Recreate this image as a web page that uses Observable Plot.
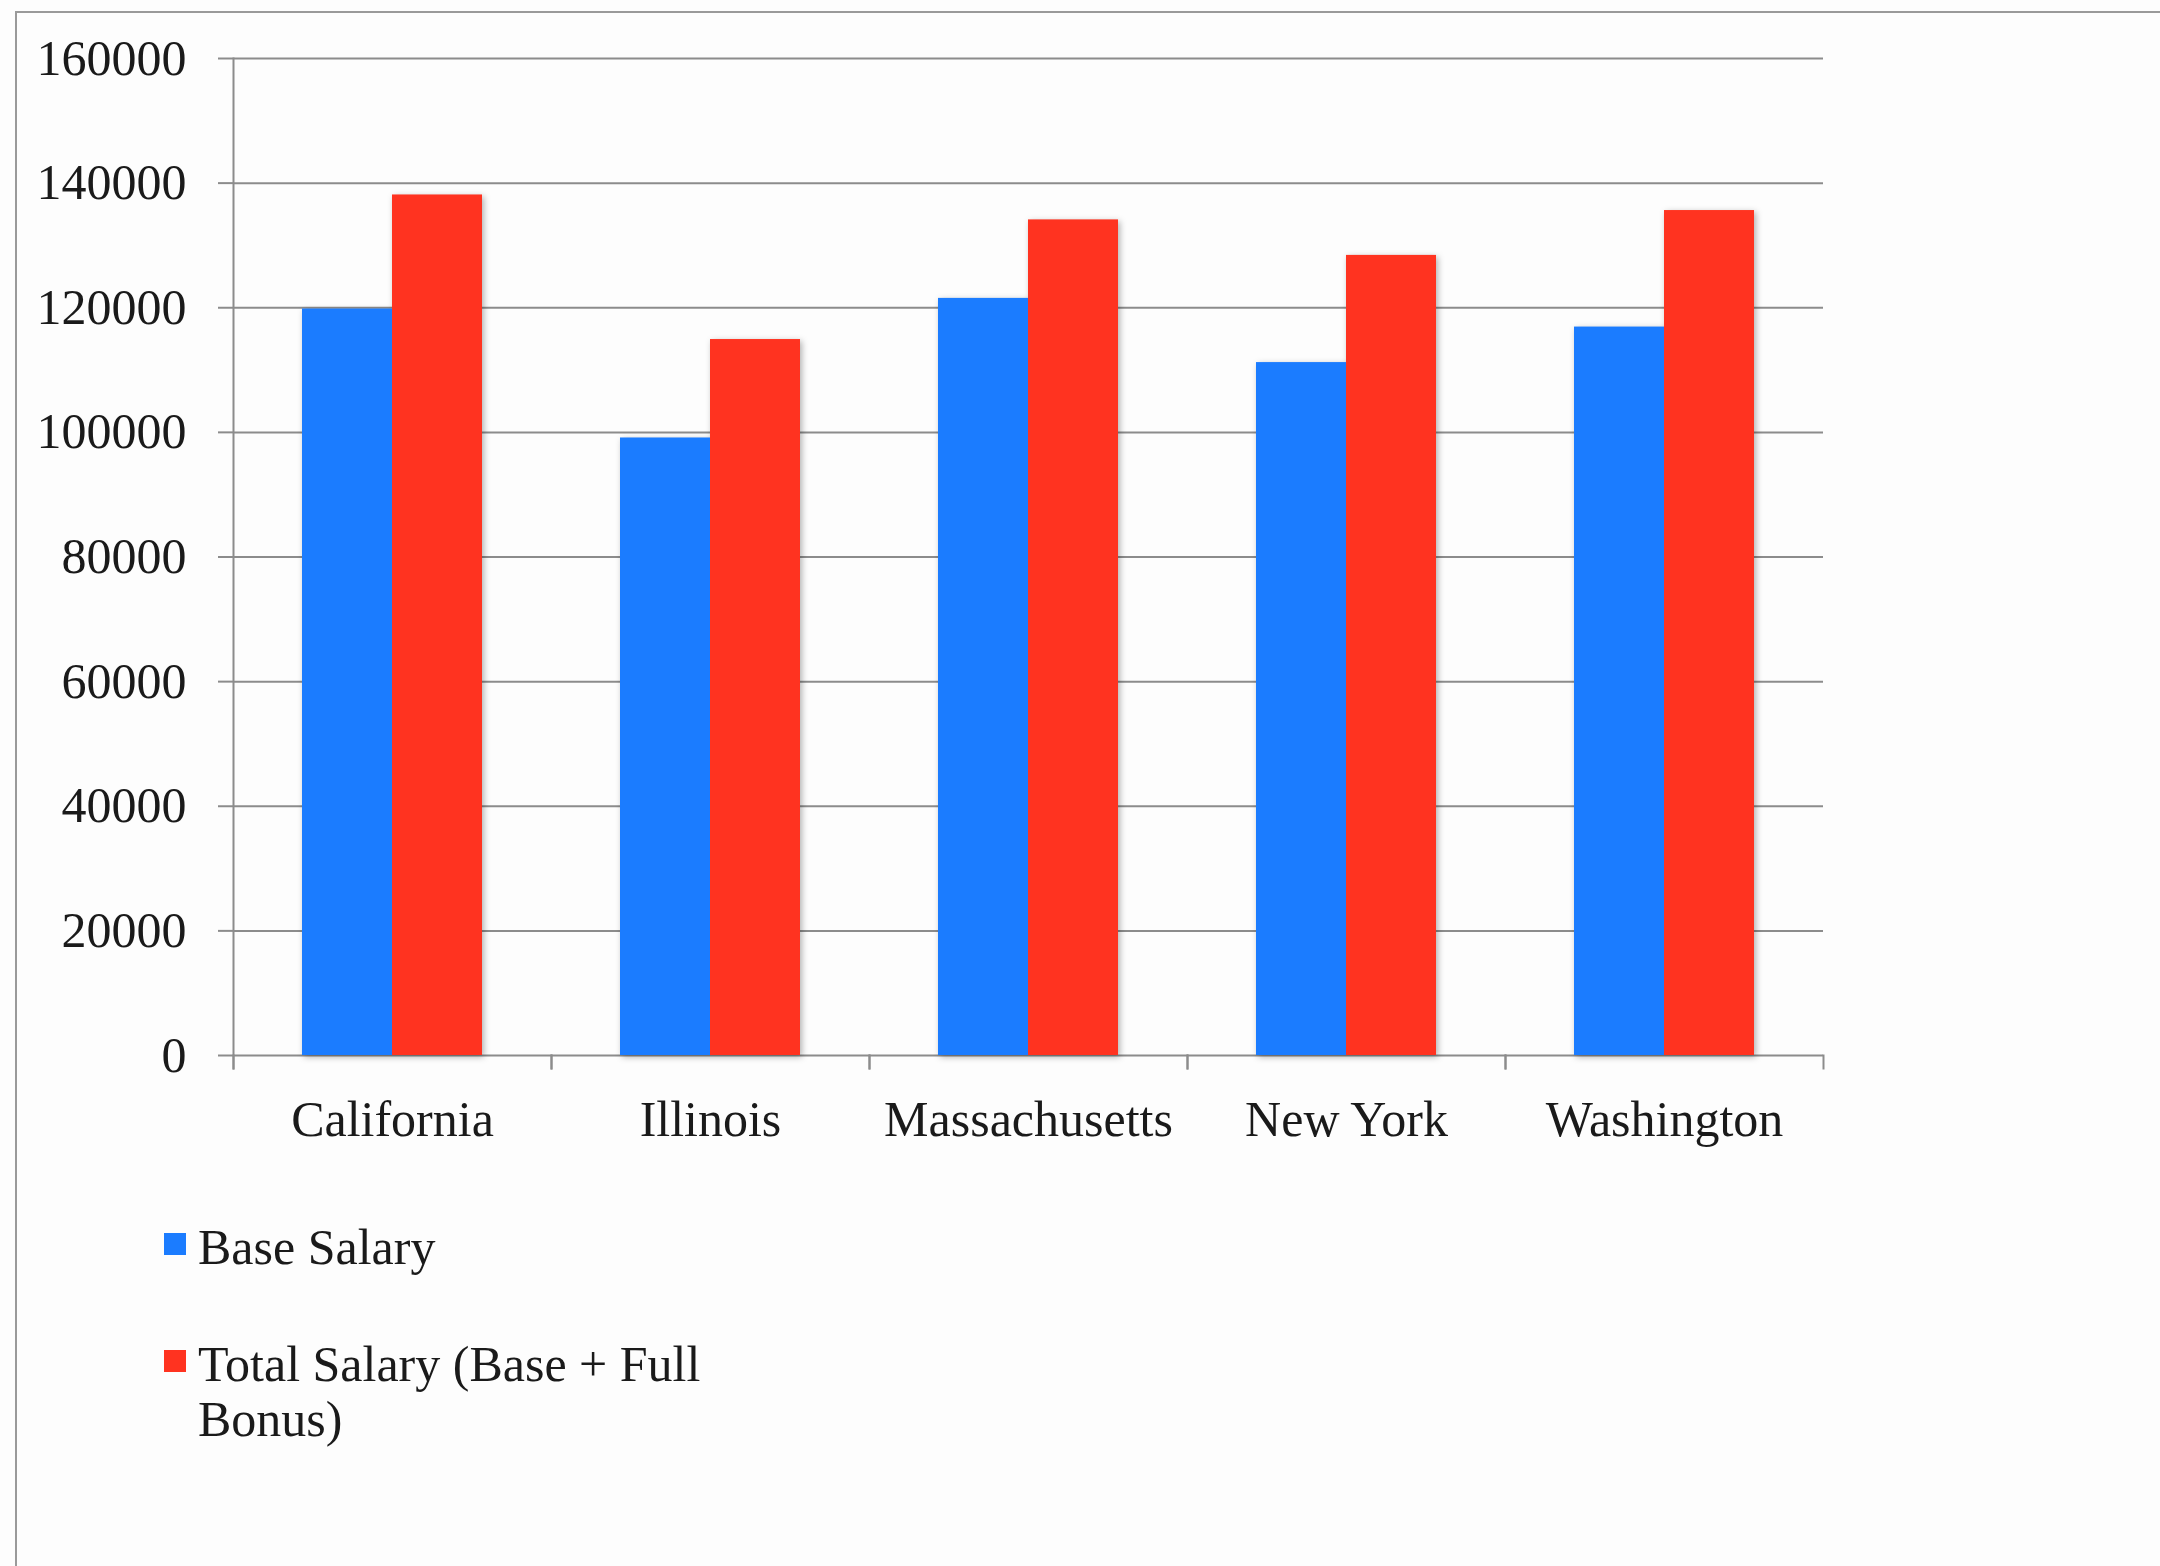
<!DOCTYPE html>
<html>
<head>
<meta charset="utf-8">
<script src="https://cdn.jsdelivr.net/npm/d3@7"></script>
<script src="https://cdn.jsdelivr.net/npm/@observablehq/plot@0.6"></script>
<style>
  html, body { margin: 0; padding: 0; background: #fdfdfd; }
  body { width: 2160px; height: 1566px; position: relative; overflow: hidden; font-family: "Liberation Serif", serif; }
  #border { position: absolute; left: 15px; top: 11px; right: -10px; bottom: -10px; border-left: 2px solid #9a9a9a; border-top: 2px solid #9a9a9a; }
  #chart { position: absolute; left: 0; top: 0; }
  #legend { position: absolute; left: 164px; top: 1220px; font-size: 50px; color: #1a1a1a; }
  .item { display: flex; align-items: flex-start; margin-bottom: 62px; }
  .sw { width: 22px; height: 22px; margin-top: 13px; margin-right: 12px; flex: none; }
  .lab { width: 520px; line-height: 55px; }
</style>
</head>
<body>
<div id="border"></div>
<div id="chart"></div>
<div id="legend"></div>
<script>
const states = ["California", "Illinois", "Massachusetts", "New York", "Washington"];
const seriesNames = ["Base Salary", "Total Salary (Base + Full Bonus)"];
const baseSalary = [119800, 99100, 121500, 111200, 116900];
const totalSalary = [138100, 114900, 134100, 128400, 135600];
const yTicks = [0, 20000, 40000, 60000, 80000, 100000, 120000, 140000, 160000];
const colors = ["#1B7CFF", "#FF3320"];

const table = states.flatMap((s, i) => [
  {state: s, series: seriesNames[0], value: baseSalary[i]},
  {state: s, series: seriesNames[1], value: totalSalary[i]}
]);

const W = 2160, H = 1170, mL = 233, mR = 337, mT = 58, mB = 115;
const plotH = H - mT - mB;
const gray = "#8c8c8c";

const chart = Plot.plot({
  width: W, height: H,
  marginLeft: mL, marginRight: mR, marginTop: mT, marginBottom: mB,
  style: {fontFamily: "'Liberation Serif', serif", fontSize: "50px", color: "#1a1a1a", background: "transparent", overflow: "visible"},
  fx: {domain: states, paddingInner: 0, paddingOuter: 0, label: null},
  x: {domain: seriesNames, paddingInner: 0, paddingOuter: 0.75, axis: null},
  y: {domain: [0, 160000], label: null},
  color: {domain: seriesNames, range: colors},
  marks: [
    Plot.ruleY(yTicks, {stroke: gray, strokeWidth: 2}),
    Plot.barY(table, {fx: "state", x: "series", y: "value", fill: "series", imageFilter: "drop-shadow(2px 2px 3px rgba(0,0,0,0.3))"}),
    Plot.frame({anchor: "left", facet: "super", insetBottom: -13, stroke: gray, strokeWidth: 2}),
    Plot.frame({anchor: "left", insetTop: plotH, insetBottom: -13, stroke: gray, strokeWidth: 2}),
    Plot.frame({anchor: "right", insetTop: plotH, insetBottom: -13, stroke: gray, strokeWidth: 2}),
    Plot.axisY({ticks: yTicks, tickSize: 15, tickPadding: 32, tickFormat: d => String(d), fontSize: 50, stroke: gray, strokeWidth: 2, fill: "#1a1a1a", label: null}),
    Plot.axisFx({anchor: "bottom", tickSize: 0, tickPadding: 45, fontSize: 50, fill: "#1a1a1a", label: null})
  ]
});
document.getElementById("chart").appendChild(chart);

const legend = document.getElementById("legend");
seriesNames.forEach((name, i) => {
  const item = document.createElement("div");
  item.className = "item";
  const sw = document.createElement("div");
  sw.className = "sw";
  sw.style.background = colors[i];
  const lab = document.createElement("div");
  lab.className = "lab";
  lab.textContent = name;
  item.appendChild(sw);
  item.appendChild(lab);
  legend.appendChild(item);
});
</script>
</body>
</html>
